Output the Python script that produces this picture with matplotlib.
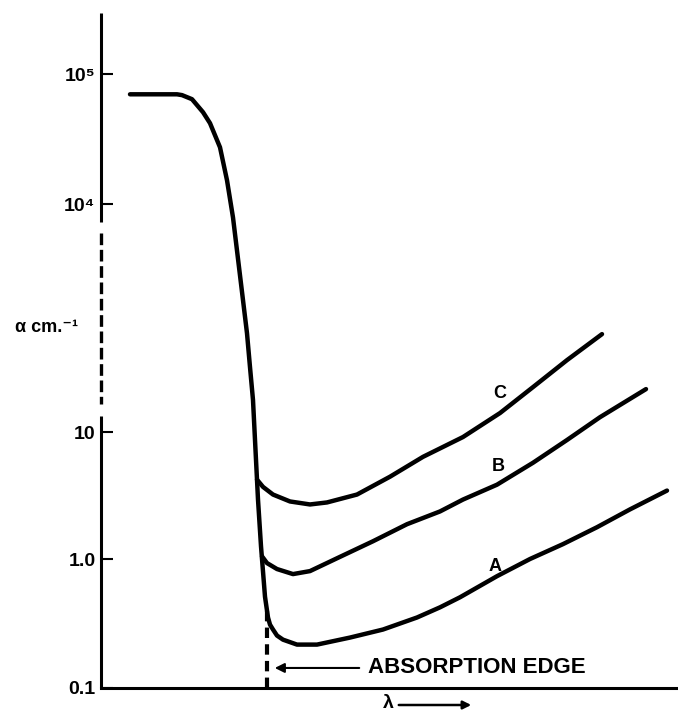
import numpy as np
import matplotlib.pyplot as plt
from matplotlib.ticker import NullLocator

plt.rcParams['font.family'] = ['Liberation Sans', 'DejaVu Sans']
plt.rcParams['font.weight'] = 'bold'

# absorption curve (lambda in arbitrary units, alpha in cm^-1)
# the steep edge runs on into curve A
lam_main = [30, 77, 82, 92, 103, 110, 120, 127, 133, 143, 147, 150, 153, 155.5,
            158, 161, 165, 168, 170, 173, 177, 183, 197, 217, 250, 283, 317, 340, 360,
            397, 430, 463, 497, 530, 567]
alpha_main = [7.0e4, 7.0e4, 6.9e4, 6.42e4, 5.1e4, 4.2e4, 2.74e4, 1.53e4, 6.7e3, 546, 200, 71.6, 26.4, 7.23,
              2.94, 1.26, 0.51, 0.352, 0.31, 0.284, 0.255, 0.237, 0.217, 0.217, 0.246, 0.284, 0.352, 0.422, 0.505,
              0.736, 1.0, 1.31, 1.78, 2.46, 3.46]

lam_b = [162, 167, 177, 193, 210, 240, 273, 307, 340, 363, 397, 433, 467, 500, 546]
alpha_b = [1.05, 0.93, 0.836, 0.764, 0.806, 1.04, 1.38, 1.88, 2.37, 2.94, 3.85, 5.73, 8.66, 15.7, 36.8]

lam_c = [157, 163, 173, 190, 210, 227, 257, 290, 323, 363, 400, 433, 467, 502]
alpha_c = [4.22, 3.7, 3.22, 2.84, 2.69, 2.79, 3.22, 4.45, 6.38, 9.14, 17.8, 39.1, 88.6, 195]

edge_lam = 167
edge_top = 0.406

ytick_vals = [0.1, 1.0, 10, 1e4, 1e5]
ytick_labels = ['0.1', '1.0', '10', '10⁴', '10⁵']

# the original axis squeezes 10..10^4 into less room than the other decades
dec_log = [-1, 0, 1, 4, 5, 6]
dec_pos = [0, 1.008, 2.0, 3.78, 4.797, 5.814]


def fwd(v):
    v = np.clip(np.asarray(v, dtype=float), 1e-3, None)
    return np.interp(np.log10(v), dec_log, dec_pos)


def inv(u):
    return 10 ** np.interp(np.asarray(u, dtype=float), dec_pos, dec_log)


fig = plt.figure(figsize=(6.78, 7.15), dpi=100)
ax = fig.add_axes([101 / 678, 27 / 715, 577 / 678, 675 / 715])
ax.set_yscale('function', functions=(fwd, inv))
ax.set_xlim(1, 578)
ax.set_ylim(0.1, 2.95e5)

lw = 3.2
ax.plot(lam_main, alpha_main, color='black', lw=lw, solid_capstyle='round', solid_joinstyle='round')
ax.plot(lam_b, alpha_b, color='black', lw=lw, solid_capstyle='round', solid_joinstyle='round')
ax.plot(lam_c, alpha_c, color='black', lw=lw, solid_capstyle='round', solid_joinstyle='round')

ax.text(400, 32.6, 'C', ha='center', va='center', fontsize=13)
ax.text(398, 5.33, 'B', ha='center', va='center', fontsize=13)
ax.text(395, 0.88, 'A', ha='center', va='center', fontsize=13)

# absorption edge marker
ax.plot([edge_lam, edge_lam], [0.1, edge_top], color='black', lw=3, dashes=(2.5, 1.5), clip_on=False)
ax.annotate('', xy=(172, 0.143), xytext=(262, 0.143),
            arrowprops=dict(arrowstyle='-|>', lw=1.5, color='black', mutation_scale=14))
ax.text(268, 0.143, 'ABSORPTION EDGE', ha='left', va='center', fontsize=16)

# broken y axis
ax.spines['left'].set_visible(False)
ax.spines['top'].set_visible(False)
ax.spines['right'].set_visible(False)
ax.spines['bottom'].set_linewidth(2.2)
ax.plot([1, 1], [5.8e3, 2.95e5], color='black', lw=2.2, clip_on=False, solid_capstyle='butt')
ax.plot([1, 1], [4.2e3, 23.3], color='black', lw=2.4, dashes=(3.5, 1.4), clip_on=False)
ax.plot([1, 1], [0.1, 16.3], color='black', lw=2.2, clip_on=False, solid_capstyle='butt')

ax.set_yticks(ytick_vals)
ax.set_yticklabels(ytick_labels, fontsize=14, fontweight='bold')
ax.yaxis.set_minor_locator(NullLocator())
ax.tick_params(axis='y', direction='in', length=8.5, width=1.5, pad=4)
ax.set_xticks([])

fig.text(47 / 678, 1 - 328 / 715, 'α cm.⁻¹', ha='center', va='center', fontsize=13, fontweight='bold')
fig.text(388 / 678, 1 - 703 / 715, 'λ', ha='center', va='center', fontsize=14, fontweight='bold')
ax.annotate('', xy=(474 / 678, 1 - 705 / 715), xytext=(396 / 678, 1 - 705 / 715),
            xycoords='figure fraction', textcoords='figure fraction',
            arrowprops=dict(arrowstyle='-|>', lw=1.8, color='black', mutation_scale=12))

fig.savefig('out.png', dpi=100)
